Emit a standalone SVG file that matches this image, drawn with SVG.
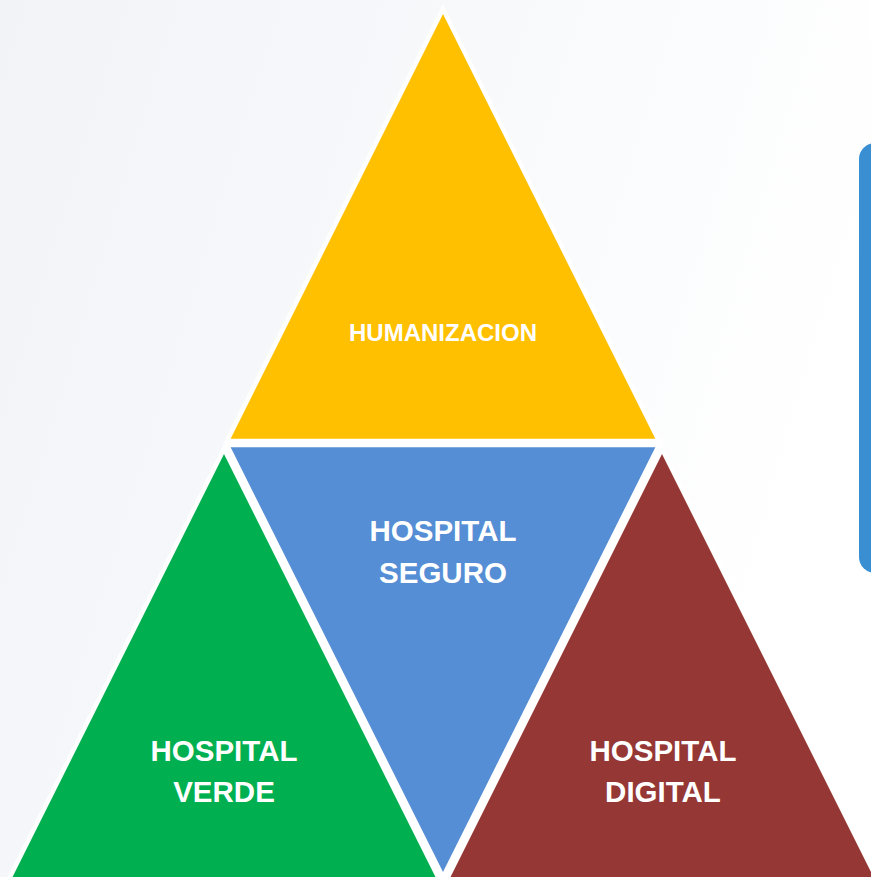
<svg xmlns="http://www.w3.org/2000/svg" width="871" height="877" viewBox="0 0 871 877">
  <defs>
    <linearGradient id="bg" x1="0" y1="0" x2="1" y2="0.3">
      <stop offset="0" stop-color="#f2f3f7"/>
      <stop offset="0.6" stop-color="#f9fafc"/>
      <stop offset="1" stop-color="#ffffff"/>
    </linearGradient>
    <style>
      .tri { stroke: #ffffff; stroke-width: 4.5; stroke-linejoin: miter; }
      .lbl { font-family: "Liberation Sans", Arial, sans-serif; font-weight: bold; fill: #ffffff; text-anchor: middle; }
      .big { font-size: 29.5px; }
      .small { font-size: 24px; }
    </style>
  </defs>
  <rect width="871" height="877" fill="url(#bg)"/>
  <g id="side-box">
    <rect x="859" y="143" width="40" height="430" rx="16" fill="#3a8fd3"/>
  </g>
  <g id="humanizacion">
    <polygon class="tri" points="443,9 227,441 659,441" fill="#ffc000"/>
    <text class="lbl small" x="443" y="341">HUMANIZACION</text>
  </g>
  <g id="hospital-seguro">
    <polygon class="tri" points="227,445 659,445 443,877" fill="#558ed5"/>
    <text class="lbl big" x="443" y="541">HOSPITAL</text>
    <text class="lbl big" x="443" y="583">SEGURO</text>
  </g>
  <g id="hospital-verde">
    <polygon class="tri" points="224,449 8,881 440,881" fill="#00b050"/>
    <text class="lbl big" x="224" y="761">HOSPITAL</text>
    <text class="lbl big" x="224" y="802">VERDE</text>
  </g>
  <g id="hospital-digital">
    <polygon class="tri" points="662,449 446,881 878,881" fill="#953735"/>
    <text class="lbl big" x="663" y="761">HOSPITAL</text>
    <text class="lbl big" x="663" y="802">DIGITAL</text>
  </g>
  <g id="connectors"/>
</svg>
